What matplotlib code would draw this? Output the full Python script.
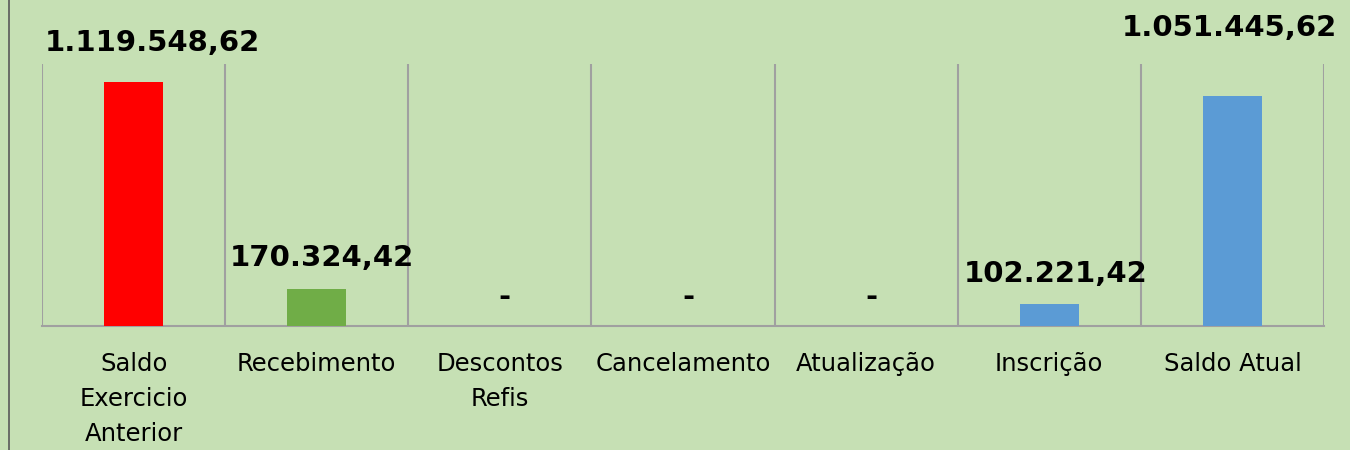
import matplotlib.pyplot as plt

# dados
categorias = ['Saldo\nExercicio\nAnterior', 'Recebimento', 'Descontos\nRefis',
              'Cancelamento', 'Atualização', 'Inscrição', 'Saldo Atual']
valores = [1119548.62, 170324.42, 0, 0, 0, 102221.42, 1051445.62]
rotulos = ['1.119.548,62', '170.324,42', '-', '-', '-', '102.221,42', '1.051.445,62']
cores = ['#FF0000', '#70AD47', '#70AD47', '#70AD47', '#70AD47', '#5B9BD5', '#5B9BD5']

# deslocamento dos rotulos (pixels), posicionados manualmente como no Excel
desloc = [(19, 39), (5, 31), (5, 29), (5, 29), (5, 29), (6, 30), (-3, 68)]

fundo = '#C6E0B4'
fig = plt.figure(figsize=(13.5, 4.5), dpi=100, facecolor=fundo)
ax = fig.add_axes([42 / 1350, 1 - 326 / 450, 1282 / 1350, 262 / 450])
ax.set_facecolor(fundo)

x = range(len(categorias))
ax.bar(x, valores, width=0.32, color=cores, zorder=3)

for i, (v, r) in enumerate(zip(valores, rotulos)):
    ax.annotate(r, (i, v), xytext=desloc[i], textcoords='offset pixels',
                ha='center', va='center', fontsize=21, fontweight='bold',
                annotation_clip=False, zorder=4)

# linhas verticais entre categorias
for i in range(len(categorias) + 1):
    ax.axvline(i - 0.5, color='#A0A0A0', lw=1.5, zorder=1)

ax.set_xlim(-0.5, len(categorias) - 0.5)
ax.set_ylim(0, 1200000)
ax.set_yticks([])
ax.set_xticks(list(x))
ax.set_xticklabels(categorias, fontsize=17.5, linespacing=1.56)
ax.tick_params(axis='x', length=0, pad=19)
for s in ['top', 'left', 'right']:
    ax.spines[s].set_visible(False)
ax.spines['bottom'].set_color('#A0A0A0')
ax.spines['bottom'].set_linewidth(1.5)

# borda esquerda
fig.add_artist(plt.Line2D([8.5 / 1350, 8.5 / 1350], [0, 1], color='#595959', lw=1.2,
                          transform=fig.transFigure))

fig.savefig('out.png', dpi=100, facecolor=fundo)
